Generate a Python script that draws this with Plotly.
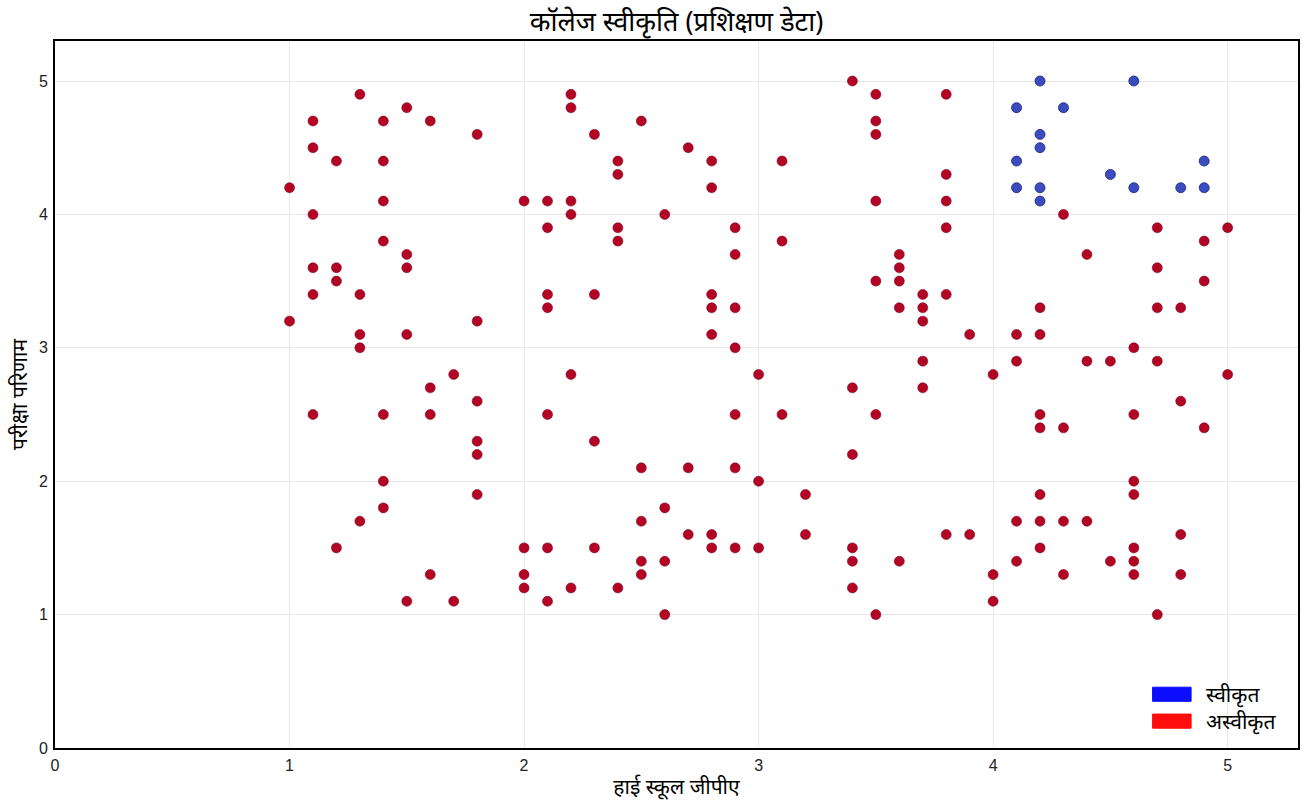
import plotly.graph_objects as go

# rejected students (x = GPA, y = exam result), read column by column
rej_gpa = (
    [1.0] * 2 + [1.1] * 6 + [1.2] * 4 + [1.3] * 5 + [1.4] * 7 + [1.5] * 5
    + [1.6] * 4 + [1.7] * 2 + [1.8] * 6 + [2.0] * 4 + [2.1] * 7 + [2.2] * 6
    + [2.3] * 4 + [2.4] * 5 + [2.5] * 5 + [2.6] * 4 + [2.7] * 3 + [2.8] * 7
    + [2.9] * 7 + [3.0] * 3 + [3.1] * 3 + [3.2] * 2 + [3.4] * 6 + [3.5] * 7
    + [3.6] * 5 + [3.7] * 5 + [3.8] * 6 + [3.9] * 2 + [4.0] * 3 + [4.1] * 4
    + [4.2] * 7 + [4.3] * 4 + [4.4] * 3 + [4.5] * 2 + [4.6] * 7 + [4.7] * 5
    + [4.8] * 4 + [4.9] * 3 + [5.0] * 2
)
rej_exam = [
    4.2, 3.2,
    4.7, 4.5, 4.0, 3.6, 3.4, 2.5,
    4.4, 3.6, 3.5, 1.5,
    4.9, 3.4, 3.1, 3.0, 1.7,
    4.7, 4.4, 4.1, 3.8, 2.5, 2.0, 1.8,
    4.8, 3.7, 3.6, 3.1, 1.1,
    4.7, 2.7, 2.5, 1.3,
    2.8, 1.1,
    4.6, 3.2, 2.6, 2.3, 2.2, 1.9,
    4.1, 1.5, 1.3, 1.2,
    4.1, 3.9, 3.4, 3.3, 2.5, 1.5, 1.1,
    4.9, 4.8, 4.1, 4.0, 2.8, 1.2,
    4.6, 3.4, 2.3, 1.5,
    4.4, 4.3, 3.9, 3.8, 1.2,
    4.7, 2.1, 1.7, 1.4, 1.3,
    4.0, 1.8, 1.4, 1.0,
    4.5, 2.1, 1.6,
    4.4, 4.2, 3.4, 3.3, 3.1, 1.6, 1.5,
    3.9, 3.7, 3.3, 3.0, 2.5, 2.1, 1.5,
    2.8, 2.0, 1.5,
    4.4, 3.8, 2.5,
    1.9, 1.6,
    5.0, 2.7, 2.2, 1.5, 1.4, 1.2,
    4.9, 4.7, 4.6, 4.1, 3.5, 2.5, 1.0,
    3.7, 3.6, 3.5, 3.3, 1.4,
    3.4, 3.3, 3.2, 2.9, 2.7,
    4.9, 4.3, 4.1, 3.9, 3.4, 1.6,
    3.1, 1.6,
    2.8, 1.3, 1.1,
    3.1, 2.9, 1.7, 1.4,
    3.3, 3.1, 2.5, 2.4, 1.9, 1.7, 1.5,
    4.0, 2.4, 1.7, 1.3,
    3.7, 2.9, 1.7,
    2.9, 1.4,
    3.0, 2.5, 2.0, 1.9, 1.5, 1.4, 1.3,
    3.9, 3.6, 3.3, 2.9, 1.0,
    3.3, 2.6, 1.6, 1.3,
    3.8, 3.5, 2.4,
    3.9, 2.8,
]

# accepted students
acc_gpa = [4.1, 4.1, 4.1, 4.2, 4.2, 4.2, 4.2, 4.2, 4.3, 4.5, 4.6, 4.6, 4.8, 4.9, 4.9]
acc_exam = [4.8, 4.4, 4.2, 5.0, 4.6, 4.5, 4.2, 4.1, 4.8, 4.3, 5.0, 4.2, 4.2, 4.4, 4.2]

labels = ["स्वीकृत", "अस्वीकृत"]
title = "कॉलेज स्वीकृति (प्रशिक्षण डेटा)"

fig = go.Figure()
fig.add_trace(go.Scatter(x=rej_gpa, y=rej_exam, mode="markers", name=labels[1],
                         marker=dict(size=10, color="#b40426",
                                     line=dict(color="#7a0a1c", width=0.6)),
                         showlegend=False))
fig.add_trace(go.Scatter(x=acc_gpa, y=acc_exam, mode="markers", name=labels[0],
                         marker=dict(size=10, color="#3b4cc0",
                                     line=dict(color="#1a237e", width=0.8)),
                         showlegend=False))

# legend drawn as patches + text, bottom right
patch_cols = ["#0000ff", "#ff0000"]
for i, (lab, col) in enumerate(zip(labels, patch_cols)):
    y0 = 0.076 - i * 0.038
    fig.add_shape(type="rect", xref="paper", yref="paper",
                  x0=0.883, x1=0.914, y0=y0 - 0.01, y1=y0 + 0.01,
                  fillcolor=col, line=dict(color=col, width=1), opacity=0.95)
    fig.add_annotation(x=0.924, y=y0, xref="paper", yref="paper", text=lab,
                       showarrow=False, xanchor="left", yanchor="middle",
                       font=dict(size=21, color="black"))

fig.update_layout(
    width=1312, height=810,
    margin=dict(l=55, r=12, t=41, b=62),
    plot_bgcolor="white", paper_bgcolor="white",
    font=dict(family="Noto Sans, DejaVu Sans, sans-serif", color="black"),
    title=dict(text=title, x=0.5, xref="paper", xanchor="center", y=0.973, yanchor="middle",
               font=dict(size=27, color="black")),
)
fig.update_xaxes(range=[0, 5.3], dtick=1, tick0=0, showgrid=True, gridcolor="#e8e8e8",
                 zeroline=False, showline=True, linecolor="black", linewidth=2, mirror=True,
                 ticks="", ticklabelstandoff=2,
                 tickfont=dict(size=16, family="Liberation Sans, Arial", color="#222"),
                 title=dict(text="हाई स्कूल जीपीए", font=dict(size=21), standoff=6))
fig.update_yaxes(range=[0, 5.3], dtick=1, tick0=0, showgrid=True, gridcolor="#e8e8e8",
                 zeroline=False, showline=True, linecolor="black", linewidth=2, mirror=True,
                 ticks="", ticklabelstandoff=2,
                 tickfont=dict(size=16, family="Liberation Sans, Arial", color="#222"),
                 title=dict(text="परीक्षा परिणाम", font=dict(size=21), standoff=6))

fig.write_html("out.html", config={"displayModeBar": False},
               post_script="document.body.style.margin='0';")
